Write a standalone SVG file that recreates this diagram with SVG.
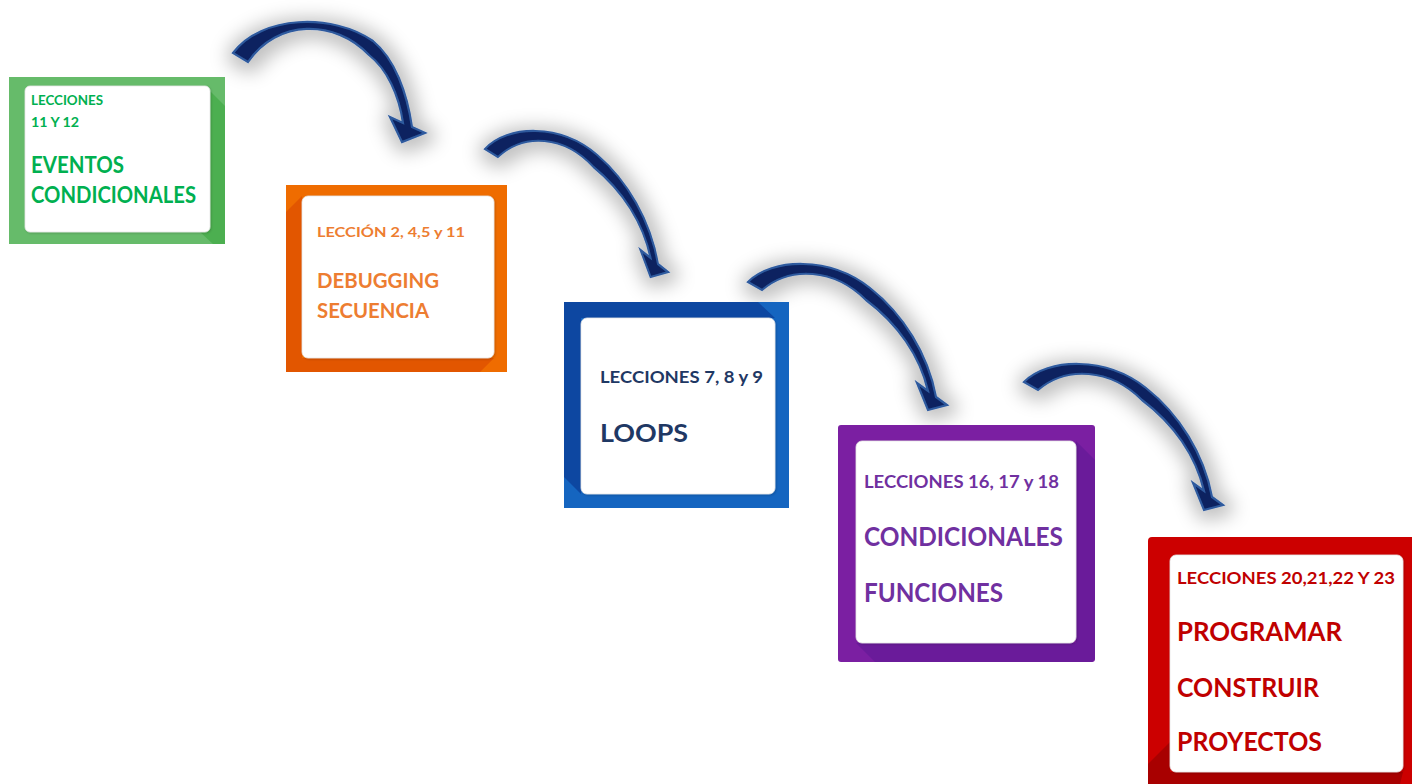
<svg xmlns="http://www.w3.org/2000/svg" width="1412" height="784" viewBox="0 0 1412 784">
<style>
  text { font-family: Lato, "Open Sans", "Liberation Sans", sans-serif; font-weight: bold; }
  .inner { fill: #ffffff; stroke: #e6e6e6; stroke-width: 0.8; }
  .arrow { fill: #0B2260; stroke: #2F5A9E; stroke-width: 2.2; stroke-linejoin: miter; }
  .g { fill: #00B050; } .o { fill: #ED7D31; } .b { fill: #1F3864; } .p { fill: #7030A0; } .r { fill: #C00000; }
</style>
<defs>
  <filter id="glow" x="-50%" y="-50%" width="200%" height="200%">
    <feMorphology in="SourceAlpha" operator="dilate" radius="6" result="d"/>
    <feGaussianBlur in="d" stdDeviation="9" result="bl"/>
    <feFlood flood-color="#000" flood-opacity="0.24"/>
    <feComposite in2="bl" operator="in" result="s"/>
    <feOffset dx="2" dy="3" result="so"/>
    <feMerge><feMergeNode in="so"/><feMergeNode in="SourceGraphic"/></feMerge>
  </filter>
  <filter id="soft" x="-10%" y="-10%" width="120%" height="120%">
    <feGaussianBlur in="SourceAlpha" stdDeviation="1.2" result="bl"/>
    <feFlood flood-color="#000" flood-opacity="0.18"/>
    <feComposite in2="bl" operator="in" result="s"/>
    <feOffset dx="0.5" dy="1" result="so"/>
    <feMerge><feMergeNode in="so"/><feMergeNode in="SourceGraphic"/></feMerge>
  </filter>
  <path id="arrT" d="M0,0 C24,-24 82,-26 122,6 C155,32 180,72 188,115 L199,123 L180,128 L169,101 L180,109 C172,74 150,42 118,18 C86,-14 42,-16 14,8 Z"/>
</defs>
<rect width="1412" height="784" fill="#ffffff"/>

<g id="connectors">
  <g filter="url(#glow)">
    <path class="arrow" transform="translate(233,53)" d="M0,0 C28,-38 100,-40 140,-12 C162,6 174,40 179,74 L192,80 L169,89 L157,64 L170,70 C166,42 154,16 136,2 C102,-34 44,-34 15,9 Z"/>
  </g>
  <g filter="url(#glow)">
    <use href="#arrT" class="arrow" transform="translate(485,149) scale(0.92,1)"/>
  </g>
  <g filter="url(#glow)">
    <use href="#arrT" class="arrow" transform="translate(748,282)"/>
  </g>
  <g filter="url(#glow)">
    <use href="#arrT" class="arrow" transform="translate(1024,382)"/>
  </g>
</g>

<g id="node1">
  <rect x="9" y="77" width="216" height="167" fill="#66BB6A"/>
  <polygon points="205,86 225,106 225,244 213,244 200,232" fill="#4CAF50"/>
  <rect class="inner" x="25" y="86" width="185" height="146" rx="5" filter="url(#soft)"/>
  <text class="g" x="31" y="105" font-size="12.5" textLength="72" lengthAdjust="spacingAndGlyphs">LECCIONES</text>
  <text class="g" x="31" y="127" font-size="12.5" textLength="48" lengthAdjust="spacingAndGlyphs">11 Y 12</text>
  <text class="g" x="31" y="173" font-size="22.5" textLength="93" lengthAdjust="spacingAndGlyphs">EVENTOS</text>
  <text class="g" x="31" y="203" font-size="22.5" textLength="165" lengthAdjust="spacingAndGlyphs">CONDICIONALES</text>
</g>

<g id="node2">
  <rect x="286" y="185" width="221" height="187" fill="#EF6C00"/>
  <polygon points="302,196 286,212 286,372 480,372 494,358 302,358" fill="#E25600"/>
  <rect class="inner" x="302" y="196" width="192" height="162" rx="6" filter="url(#soft)"/>
  <text class="o" x="317" y="237" font-size="14" textLength="148" lengthAdjust="spacingAndGlyphs">LECCIÓN 2, 4,5 y 11</text>
  <text class="o" x="317" y="288" font-size="20" textLength="122" lengthAdjust="spacingAndGlyphs">DEBUGGING</text>
  <text class="o" x="317" y="318" font-size="20" textLength="112" lengthAdjust="spacingAndGlyphs">SECUENCIA</text>
</g>

<g id="node3">
  <rect x="564" y="302" width="225" height="206" fill="#1565C0"/>
  <polygon points="581,494 564,477 564,302 758,302 775,318 581,318" fill="#0D47A1"/>
  <rect class="inner" x="581" y="318" width="194" height="176" rx="6" filter="url(#soft)"/>
  <text class="b" x="600" y="383" font-size="17" textLength="163" lengthAdjust="spacingAndGlyphs">LECCIONES 7, 8 y 9</text>
  <text class="b" x="600" y="442" font-size="25.5" textLength="88" lengthAdjust="spacingAndGlyphs">LOOPS</text>
</g>

<g id="node4">
  <rect x="838" y="425" width="257" height="237" rx="3" fill="#7B1FA2"/>
  <polygon points="1076,441 1095,460 1095,659 1092,662 875,662 856,643 1076,643" fill="#6A1B9A"/>
  <rect class="inner" x="856" y="441" width="220" height="202" rx="6" filter="url(#soft)"/>
  <text class="p" x="864" y="488" font-size="16.5" textLength="195" lengthAdjust="spacingAndGlyphs">LECCIONES 16, 17 y 18</text>
  <text class="p" x="864" y="546" font-size="27" textLength="199" lengthAdjust="spacingAndGlyphs">CONDICIONALES</text>
  <text class="p" x="864" y="602" font-size="27" textLength="139" lengthAdjust="spacingAndGlyphs">FUNCIONES</text>
</g>

<g id="node5">
  <rect x="1148" y="537" width="270" height="260" rx="4" fill="#CC0000"/>
  <polygon points="1170,742 1148,764 1148,784 1400,784 1403,772 1170,772" fill="#A80000"/>
  <rect class="inner" x="1170" y="555" width="233" height="217" rx="6" filter="url(#soft)"/>
  <text class="r" x="1177" y="584" font-size="17" textLength="218" lengthAdjust="spacingAndGlyphs">LECCIONES 20,21,22 Y 23</text>
  <text class="r" x="1177" y="641" font-size="27" textLength="165" lengthAdjust="spacingAndGlyphs">PROGRAMAR</text>
  <text class="r" x="1177" y="697" font-size="27" textLength="142" lengthAdjust="spacingAndGlyphs">CONSTRUIR</text>
  <text class="r" x="1177" y="751" font-size="27" textLength="145" lengthAdjust="spacingAndGlyphs">PROYECTOS</text>
</g>
</svg>
